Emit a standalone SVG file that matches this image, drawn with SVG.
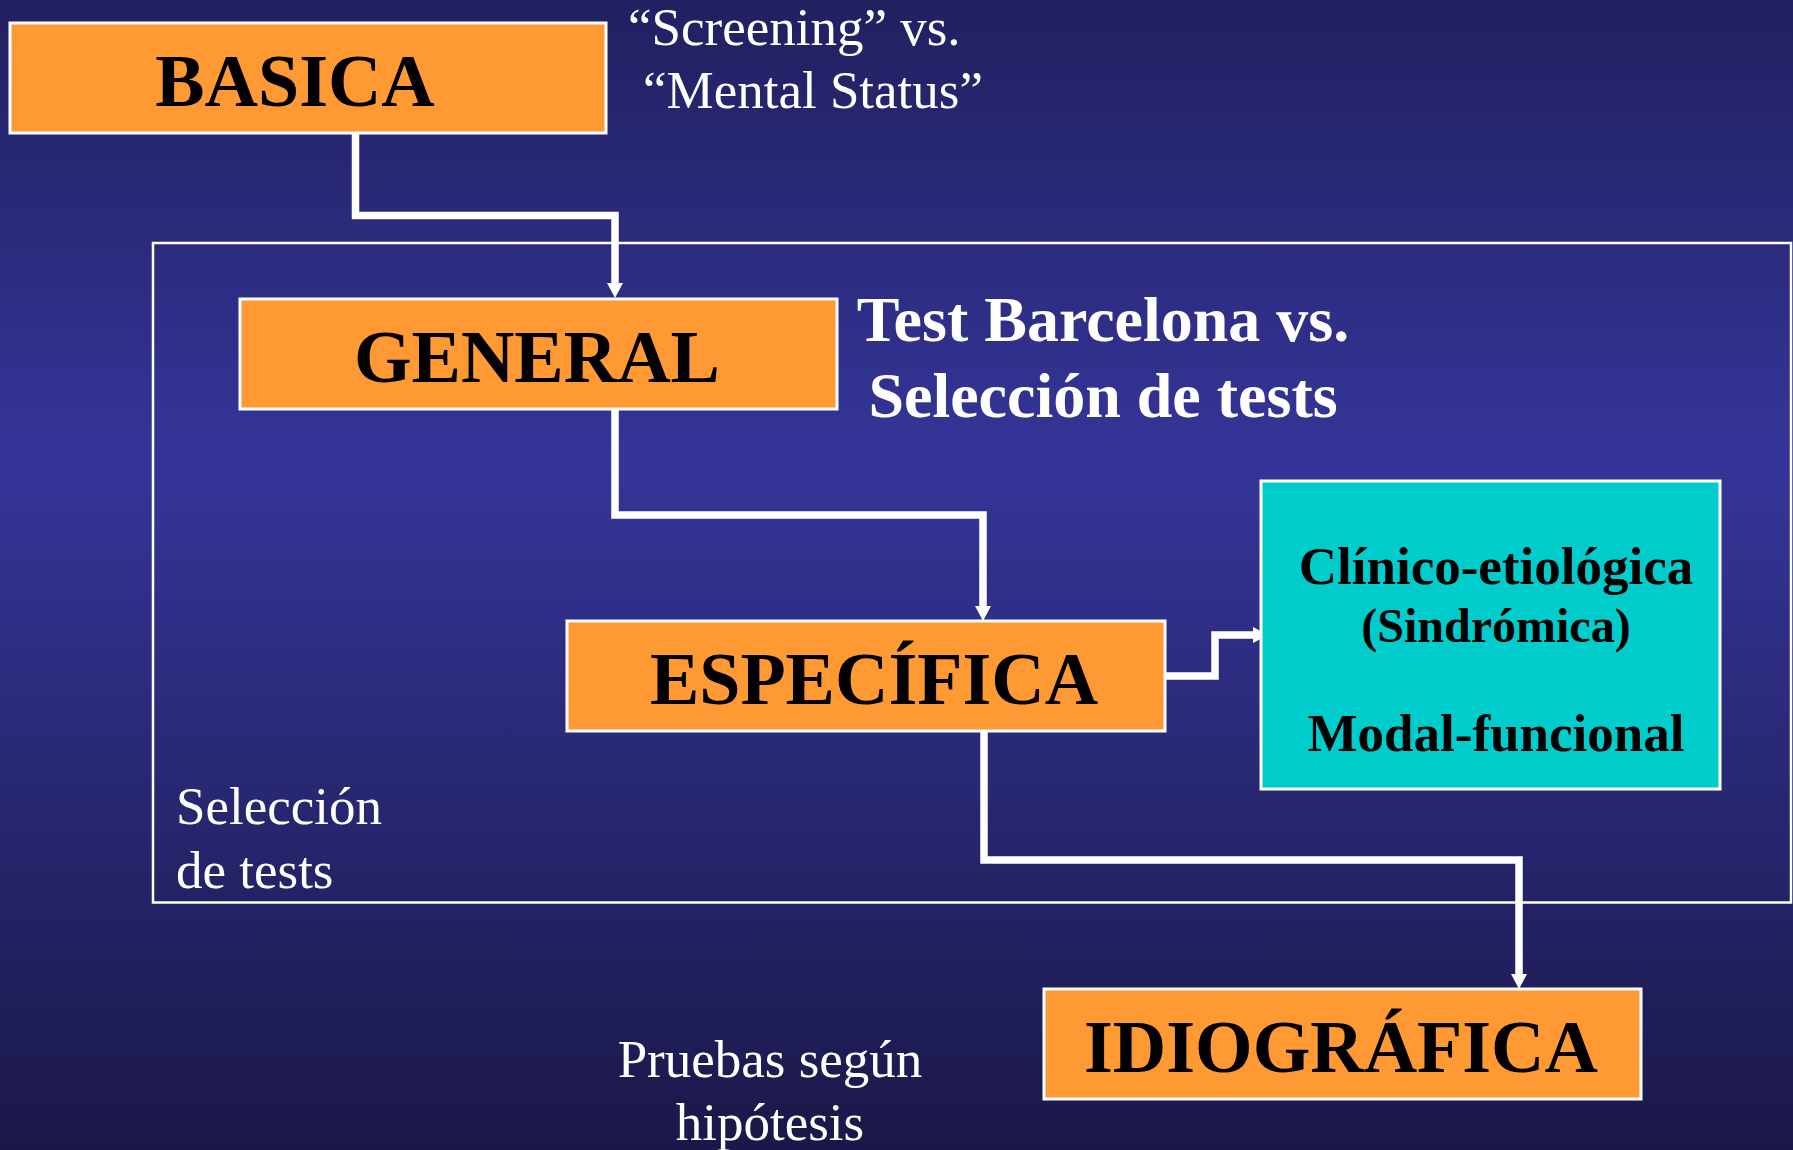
<svg xmlns="http://www.w3.org/2000/svg" width="1793" height="1150" viewBox="0 0 1793 1150">
  <defs>
    <linearGradient id="bg" x1="0" y1="0" x2="0" y2="1">
      <stop offset="0" stop-color="#212060"/>
      <stop offset="0.4" stop-color="#353599"/>
      <stop offset="1" stop-color="#1a1848"/>
    </linearGradient>
    <marker id="arrow" viewBox="0 0 15 16" markerWidth="15" markerHeight="16" markerUnits="userSpaceOnUse" refX="0" refY="8" orient="auto">
      <path d="M0,0 L15,8 L0,16 Z" fill="#ffffff"/>
    </marker>
    <style>
      .box { fill: #ff9933; stroke: #ffffff; stroke-width: 3; }
      .teal { fill: #00cccc; stroke: #ffffff; stroke-width: 3; }
      .frame { fill: none; stroke: #ffffff; stroke-width: 2.5; }
      .conn { fill: none; stroke: #ffffff; stroke-width: 7.5; stroke-linejoin: miter; stroke-linecap: butt; marker-end: url(#arrow); }
      .big { font-family: "Liberation Serif", "Times New Roman", serif; font-weight: bold; font-size: 74px; fill: #000000; text-anchor: middle; }
      .teal-t { font-family: "Liberation Serif", "Times New Roman", serif; font-weight: bold; fill: #000000; text-anchor: middle; }
      .note { font-family: "Liberation Serif", "Times New Roman", serif; font-size: 53px; fill: #ffffff; }
      .notebold { font-family: "Liberation Serif", "Times New Roman", serif; font-weight: bold; font-size: 64px; fill: #ffffff; text-anchor: middle; }
    </style>
  </defs>

  <rect x="0" y="0" width="1793" height="1150" fill="url(#bg)"/>

  <g id="frame-seleccion">
    <rect class="frame" x="153" y="243" width="1638" height="659.5"/>
    <text class="note" x="176" y="824">Selección</text>
    <text class="note" x="176" y="888">de tests</text>
  </g>

  <g id="connectors">
    <path class="conn" d="M355.5,133 V215.5 H615 V283"/>
    <path class="conn" d="M615,409 V515 H983 V606"/>
    <path class="conn" d="M1161,676 H1215 V635 H1253"/>
    <path class="conn" d="M984,731 V860 H1519 V974"/>
  </g>

  <g id="node-basica">
    <rect class="box" x="10" y="23" width="596" height="110"/>
    <text class="big" x="295" y="106">BASICA</text>
  </g>

  <g id="note-screening">
    <text class="note" x="628" y="45">“Screening” vs.</text>
    <text class="note" x="643" y="108">“Mental Status”</text>
  </g>

  <g id="node-general">
    <rect class="box" x="240" y="299" width="597" height="110"/>
    <text class="big" x="537" y="382">GENERAL</text>
  </g>

  <g id="note-barcelona">
    <text class="notebold" x="1103" y="341">Test Barcelona vs.</text>
    <text class="notebold" x="1103" y="417">Selección de tests</text>
  </g>

  <g id="node-especifica">
    <rect class="box" x="567" y="621" width="598" height="110"/>
    <text class="big" x="874" y="704">ESPECÍFICA</text>
  </g>

  <g id="node-clinico">
    <rect class="teal" x="1261" y="481" width="459" height="308"/>
    <text class="teal-t" x="1496" y="584" font-size="53">Clínico-etiológica</text>
    <text class="teal-t" x="1496" y="642" font-size="48">(Sindrómica)</text>
    <text class="teal-t" x="1496" y="751" font-size="53">Modal-funcional</text>
  </g>

  <g id="node-idiografica">
    <rect class="box" x="1044" y="989" width="597" height="110"/>
    <text class="big" x="1341" y="1072">IDIOGRÁFICA</text>
  </g>

  <g id="note-pruebas">
    <text class="note" x="770" y="1077" text-anchor="middle">Pruebas según</text>
    <text class="note" x="770" y="1140" text-anchor="middle">hipótesis</text>
  </g>
</svg>
